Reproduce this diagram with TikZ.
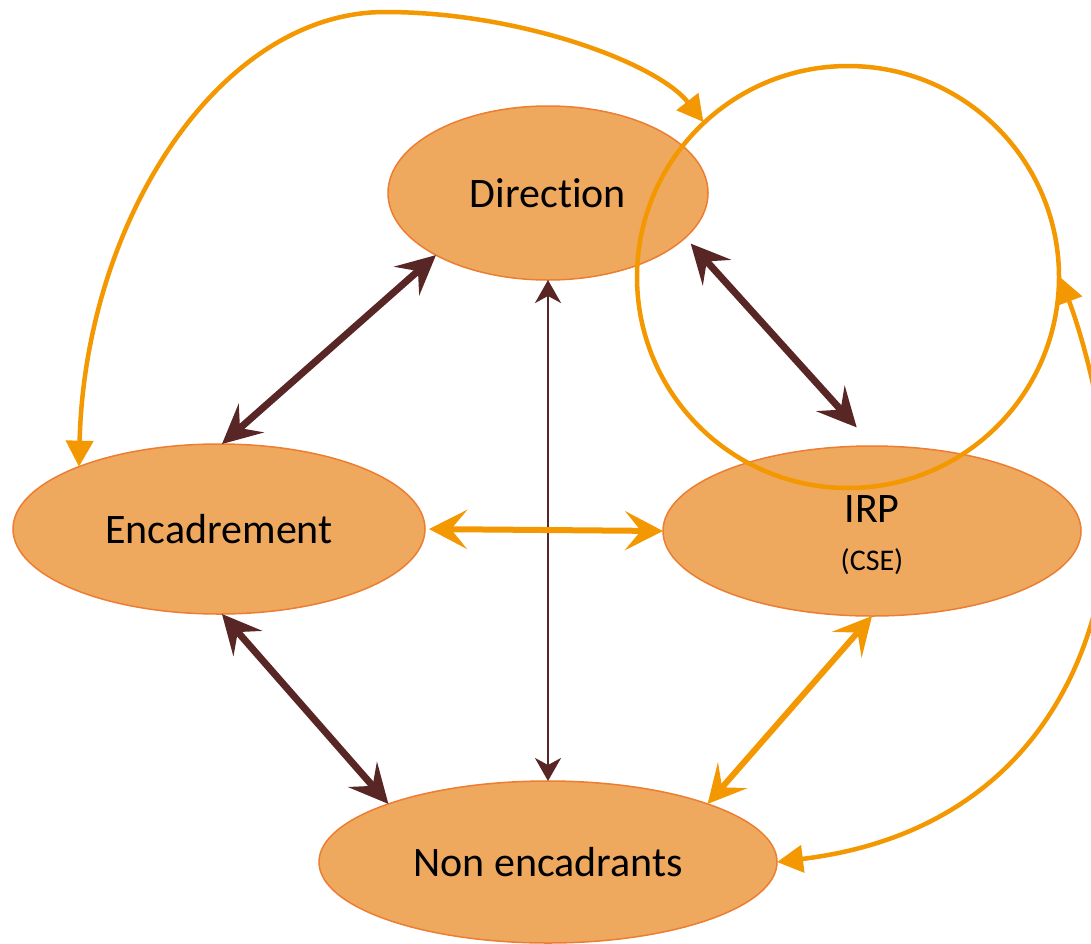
\documentclass[tikz,border=0pt]{standalone}
\usepackage{fontspec}
\setmainfont{Carlito}[Ligatures=NoCommon]
\usepackage{tikz}
\usetikzlibrary{arrows.meta,shapes.geometric,positioning}
\definecolor{group fill}{RGB}{238,169,95}
\definecolor{group line}{RGB}{237,125,49}
\definecolor{link orange}{RGB}{243,152,0}
\definecolor{link brown}{RGB}{89,38,38}
\tikzset{
    group/.style={ellipse,draw=group line,fill=group fill,line width=1.5pt,inner sep=0pt,outer sep=0pt,font=\fontsize{42}{50}\selectfont},
    ring/.style={circle,draw=link orange,line width=4.5pt,inner sep=0pt,outer sep=1pt,minimum size=422pt},
    brown link/.style={{Stealth[length=39pt,width=38pt,inset=15pt]}-{Stealth[length=39pt,width=38pt,inset=15pt]},draw=link brown,line width=7pt},
    thin brown link/.style={{Stealth[length=23pt,width=26pt,inset=7pt]}-{Stealth[length=23pt,width=26pt,inset=7pt]},draw=link brown,line width=2.5pt},
    orange link/.style={{Stealth[length=38pt,width=39pt,inset=16pt]}-{Stealth[length=38pt,width=39pt,inset=16pt]},draw=link orange,line width=6pt},
    loop link/.style={{Triangle[length=26pt,width=27pt]}-{Triangle[length=26pt,width=27pt]},draw=link orange,line width=4.5pt},
}

\begin{document}
\begin{tikzpicture}[x=1pt,y=-1pt]
    \useasboundingbox (0,0) rectangle (1091,943);
    % groups
    \node[group,minimum width=320pt,minimum height=174pt] (dir) at (548,193) {Direction};
    \node[group,minimum width=412pt,minimum height=170pt] (enc) at (219,529) {Encadrement};
    \node[group,minimum width=418pt,minimum height=170pt,align=center] (irp) at (872,531) {\rule{0pt}{36pt}IRP\\[-2pt]{\fontsize{30}{36}\selectfont (CSE)}};
    \node[group,minimum width=458pt,minimum height=162pt] (nonenc) at (548,862) {Non encadrants};
    \node[ring] (ring) at (848,277) {};
    % links
    \draw[brown link] (dir.-151) -- (enc.88);
    \draw[brown link,shorten <=8pt,shorten >=25pt] (dir.-18) -- (irp.89);
    \draw[brown link] (enc.-88) -- (nonenc.160);
    \draw[thin brown link] (dir.south) -- (nonenc.north);
    \draw[orange link,shorten <=4pt] (enc.east) -- (irp.west);
    \draw[orange link] (irp.south) -- (nonenc.20);
    % around the ring
    \draw[loop link] (enc.156) .. controls (85,220) and (220,12) .. (385,12)
        .. controls (520,12) and (657,63) .. (ring.133);
    \draw[loop link] (ring.0) .. controls (1080,330) and (1108,420) .. (1108,510)
        .. controls (1108,640) and (1040,830) .. (nonenc.east);
\end{tikzpicture}
\end{document}
